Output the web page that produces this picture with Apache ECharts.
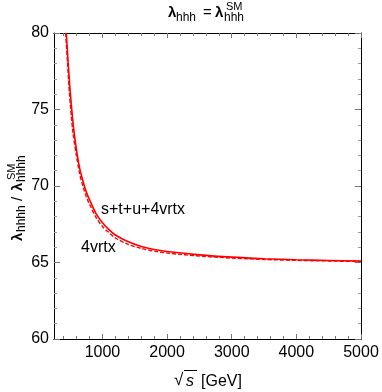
<!DOCTYPE html>
<html>
<head>
<meta charset="utf-8">
<script src="https://cdn.jsdelivr.net/npm/echarts@6/dist/echarts.min.js"></script>
<style>
html, body { margin: 0; padding: 0; background: #fff; }
#chart { width: 382px; height: 392px; }
</style>
</head>
<body>
<div id="chart"></div>
<script>
// sqrt(s) in GeV and lambda_hhhh / lambda_hhhh^SM
var fullS = [440, 470, 500, 550, 600, 650, 700, 750, 800, 900, 1000, 1100, 1200, 1400, 1600, 1800, 2000, 2500, 3000, 3500, 4000, 4500, 5000];
var fullRatio = [80, 78, 76.2, 73.9, 72.3, 71.1, 70.3, 69.6, 69.1, 68.2, 67.6, 67.15, 66.8, 66.35, 66.05, 65.85, 65.72, 65.5, 65.35, 65.25, 65.18, 65.13, 65.09];
var vrtxS = [430, 460, 490, 540, 600, 650, 700, 750, 800, 900, 1000, 1100, 1200, 1400, 1600, 1800, 2000, 2500, 3000, 3500, 4000, 4500, 5000];
var vrtxRatio = [80, 78, 76, 73.6, 71.9, 70.75, 69.95, 69.3, 68.8, 67.95, 67.35, 66.95, 66.6, 66.18, 65.92, 65.74, 65.62, 65.42, 65.29, 65.2, 65.14, 65.1, 65.06];

var xMajor = [1000, 2000, 3000, 4000, 5000];
var xMinor = [400, 600, 800, 1200, 1400, 1600, 1800, 2200, 2400, 2600, 2800, 3200, 3400, 3600, 3800, 4200, 4400, 4600, 4800];

var FONT = '"Liberation Sans", Arial, sans-serif';
var chart = echarts.init(document.getElementById('chart'));

function pairs(xs, ys) {
    return xs.map(function (x, i) { return [x, ys[i]]; });
}

function xAxisDef(pos, ticks, len, labels) {
    return {
        type: 'value', position: pos, min: 250, max: 5000,
        axisLine: { show: true, onZero: false, lineStyle: { color: '#000', width: 1 } },
        axisTick: { show: true, inside: true, length: len, customValues: ticks, lineStyle: { color: '#777' } },
        axisLabel: labels ? {
            customValues: xMajor, color: '#000', fontSize: 16, fontFamily: FONT, margin: 6,
            formatter: function (v) { return String(v); }
        } : { show: false },
        splitLine: { show: false }
    };
}

function yAxisDef(pos, labels) {
    return {
        type: 'value', position: pos, min: 60, max: 80, interval: 5,
        axisLine: { show: true, onZero: false, lineStyle: { color: '#000', width: 1 } },
        axisTick: { show: true, inside: true, length: 6, lineStyle: { color: '#777' } },
        minorTick: { show: true, splitNumber: 5, length: 3, lineStyle: { color: '#999' } },
        axisLabel: labels ? { color: '#000', fontSize: 16, fontFamily: FONT, margin: 5 } : { show: false },
        splitLine: { show: false }
    };
}

function txt(str, x, y, size, extra) {
    var st = { text: str, x: x, y: y, font: (extra && extra.weight ? extra.weight + ' ' : '') + size + 'px ' + FONT,
        fill: '#000', textAlign: 'left', textVerticalAlign: 'middle' };
    var el = { type: 'text', style: st, z: 100 };
    if (extra && extra.rot) {
        el.x = x; el.y = y; st.x = 0; st.y = 0; el.rotation = Math.PI / 2;
    }
    return el;
}

chart.setOption({
    animation: false,
    grid: { left: 54, top: 33, width: 307, height: 306 },
    xAxis: [
        xAxisDef('bottom', xMajor, 5, true),
        xAxisDef('bottom', xMinor, 3, false),
        xAxisDef('top', xMajor, 5, false),
        xAxisDef('top', xMinor, 3, false)
    ],
    yAxis: [yAxisDef('left', true), yAxisDef('right', false)],
    series: [
        {
            name: 's+t+u+4vrtx', type: 'line', data: pairs(fullS, fullRatio),
            smooth: 0.3, showSymbol: false, clip: true,
            lineStyle: { color: '#ff0000', width: 1.6 }
        },
        {
            name: '4vrtx', type: 'line', data: pairs(vrtxS, vrtxRatio),
            smooth: 0.3, showSymbol: false, clip: true,
            lineStyle: { color: '#ff0000', width: 1.4, type: [4, 2] }
        }
    ],
    graphic: [
        // title
        txt('λ', 168, 13, 15, { weight: 'bold' }),
        txt('hhh', 176, 18, 12),
        txt('=', 203, 13, 15),
        txt('λ', 215, 13, 15, { weight: 'bold' }),
        txt('hhh', 224, 18, 12),
        txt('SM', 226, 7, 11),
        // y axis name
        txt('λ', 18, 241, 15, { rot: 1, weight: 'bold' }),
        txt('hhhh', 22, 232, 12, { rot: 1 }),
        txt('/', 18, 201, 15, { rot: 1 }),
        txt('λ', 18, 191, 15, { rot: 1, weight: 'bold' }),
        txt('hhhh', 22, 182, 12, { rot: 1 }),
        txt('SM', 12, 180, 11, { rot: 1 }),
        // x axis name
        txt('√', 174, 380, 17),
        { type: 'line', shape: { x1: 184, y1: 370.5, x2: 197, y2: 370.5 }, style: { stroke: '#000', lineWidth: 1 } },
        txt('s', 186, 382, 16, { weight: 'italic' }),
        txt('[GeV]', 201, 382, 16),
        // curve labels
        txt('s+t+u+4vrtx', 101, 210, 16),
        txt('4vrtx', 81, 248, 16)
    ]
});
</script>
</body>
</html>
